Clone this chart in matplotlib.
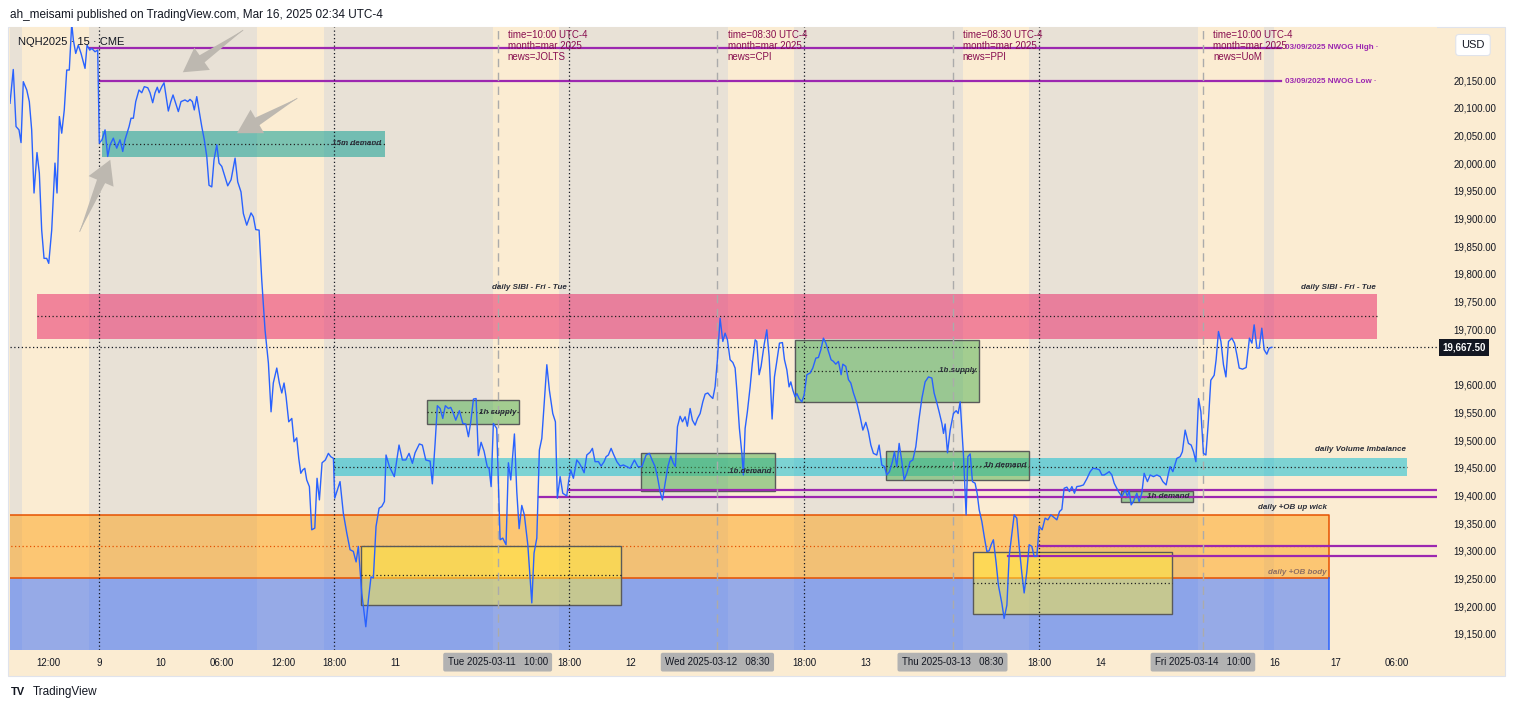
import matplotlib
matplotlib.use('Agg')
import matplotlib.pyplot as plt
import matplotlib.transforms as mtransforms
from matplotlib.patches import Rectangle

plt.rcParams['font.family'] = ['Liberation Sans', 'DejaVu Sans']

W, H = 1515, 711

# trading hours counted from Sun Mar 9 18:00 (17:00-18:00 breaks and weekend removed)
hours = [
    -8.71, -8.39, -8.12, -7.83, -7.63, -7.41, -7.07, -6.82, -6.59, -6.36, -6.07, -5.84,
    -5.61, -5.38, -5.12, -4.92, -4.63, -4.31, -4.11, -3.88, -3.65, -3.40, -3.16, -2.91,
    -2.67, -2.51, -2.28, -2.03, -1.76, -1.37, -1.17, -0.91, -0.71, -0.39, -0.13,
    0.03, 0.29, 0.59, 0.85, 1.08, 1.40, 1.73, 2.05, 2.32, 2.54, 2.94, 3.13, 3.36, 3.59,
    3.91, 4.18, 4.43, 4.77, 4.99, 5.25, 5.48, 5.70, 5.87, 6.14, 6.36, 6.62, 6.78, 7.02,
    7.24, 7.50, 7.76, 8.02, 8.41, 8.68, 8.90, 9.13, 9.32, 9.56, 9.81, 10.05, 10.30,
    10.54, 10.76, 11.03, 11.25, 11.52, 11.74, 12.01, 12.33, 12.59, 12.92, 13.31, 13.57,
    13.89, 14.12, 14.45, 14.87, 15.10, 15.33, 15.66, 15.92, 16.24, 16.57, 16.83, 17.05,
    17.39, 17.64, 17.88, 18.10, 18.30, 18.56, 18.86, 19.08, 19.34, 19.54, 19.74, 19.93,
    20.13, 20.32, 20.58, 20.81, 21.11, 21.33, 21.56, 21.82, 22.14, 22.44, 22.67, 22.93,
    23.06, 23.32, 23.58, 23.90, 24.24, 24.56, 24.88, 25.15, 25.37, 25.70, 26.10, 26.35,
    26.61, 26.84, 27.10, 27.40, 27.66, 27.92, 28.08, 28.41, 28.89, 29.35, 29.68, 30.01,
    30.33, 30.66, 30.92, 31.34, 31.63, 31.97, 32.39, 32.61, 32.88, 33.10, 33.37, 33.63,
    33.88, 34.18, 34.41, 34.67, 34.90, 35.26, 35.59, 35.88, 36.14, 36.37, 36.63, 36.89,
    37.11, 37.38, 37.67, 37.99, 38.16, 38.36, 38.58, 38.91, 39.24, 39.50, 39.82, 40.05,
    40.28, 40.64, 40.87, 41.10, 41.36, 41.61, 41.95, 42.34, 42.56, 42.83, 43.08, 43.32,
    43.57, 43.81, 44.06, 44.39, 44.65, 44.84, 45.11, 45.37, 45.76, 45.96, 46.15, 46.41,
    46.74, 47.00, 47.23, 47.46, 47.72, 48.04, 48.27, 48.53, 48.86, 49.12, 49.41, 49.61,
    49.83, 50.10, 50.32, 50.66, 50.98, 51.30, 51.64, 51.96, 52.38, 52.72, 53.11, 53.52,
    53.85, 54.11, 54.40, 54.63, 54.89, 55.12, 55.38, 55.65, 55.94, 56.17, 56.39, 56.59,
    56.85, 57.08, 57.34, 57.56, 57.83, 58.05, 58.32, 58.55, 58.81, 59.07, 59.30, 59.56,
    59.78, 60.05, 60.27, 60.50, 60.76, 61.03, 61.25, 61.48, 61.74, 62.01, 62.23, 62.40,
    62.65, 62.89, 63.04, 63.21, 63.43, 63.70, 63.92, 64.19, 64.35, 64.58, 64.77, 65.07,
    65.33, 65.56, 65.85, 66.08, 66.31, 66.57, 66.86, 67.06, 67.29, 67.51, 67.68, 67.88,
    68.10, 68.27, 68.49, 68.76, 68.98, 69.25, 69.57, 69.83, 70.13, 70.38, 70.62, 70.87,
    71.11, 71.36, 71.62, 71.85, 72.08, 72.34, 72.60, 72.77, 73.06, 73.32, 73.55, 73.81,
    74.14, 74.46, 74.73, 75.02, 75.27, 75.51, 75.76, 76.09, 76.32, 76.58, 76.84, 77.07,
    77.33, 77.62, 77.82, 78.05, 78.28, 78.54, 78.77, 79.03, 79.35, 79.62, 79.91, 80.21,
    80.50, 80.82, 81.15, 81.48, 81.70, 81.97, 82.19, 82.46, 82.62, 82.78, 83.01, 83.27,
    83.59, 83.86, 84.05, 84.25, 84.42, 84.57, 84.83, 85.00, 85.23, 85.45, 85.71, 85.91,
    86.11, 86.37, 86.63, 86.86, 87.08, 87.28, 87.50, 87.77, 87.99, 88.33, 88.55, 88.82,
    89.04, 89.30, 89.53, 89.79, 90.02, 90.28, 90.51, 90.77, 91.00, 91.26, 91.49, 91.75,
    91.98, 92.27, 92.56, 92.83, 93.12, 93.38, 93.71, 93.97, 94.20, 94.42, 94.69, 94.94,
    95.18, 95.43, 95.66, 95.99, 96.31, 96.64, 96.97, 97.23, 97.62, 97.88, 98.11, 98.34,
    98.60, 98.83, 99.09, 99.32, 99.74, 100.07, 100.39, 100.62, 100.78, 100.98, 101.20,
    101.53, 101.76, 102.02, 102.25, 102.57, 102.84, 103.16, 103.49, 103.82, 104.08,
    104.40, 104.63, 104.79, 105.06, 105.45, 105.77, 105.99, 106.26, 106.58, 106.85,
    107.08, 107.31, 107.57, 107.80, 108.05, 108.29, 108.54, 108.77, 109.10, 109.29,
    109.52, 109.76, 110.01, 110.25, 110.50, 110.83, 111.09, 111.32, 111.55, 111.87,
    112.23, 112.55, 112.79, 113.01, 113.28, 113.50, 113.76, 113.99, 114.25, 114.48, 114.75,
]
prices = [
    20108, 20169, 20066, 20060, 20037, 20147, 20132, 20111, 20060, 19946, 20019, 19982,
    19879, 19828, 19828, 19819, 19879, 20000, 19946, 20084, 20054, 20096, 20168, 20168,
    20252, 20222, 20198, 20213, 20198, 20171, 20213, 20204, 20207, 20201, 20204,
    20036, 20042, 20060, 20012, 20033, 20045, 20027, 20042, 20021, 20042, 20066, 20081, 20081, 20111,
    20132, 20127, 20138, 20136, 20127, 20109, 20127, 20137, 20127, 20138, 20145, 20114, 20094, 20111,
    20123, 20108, 20093, 20111, 20114, 20111, 20115, 20111, 20096, 20120, 20093, 20066, 20042,
    20012, 19960, 19957, 20006, 20033, 20000, 19994, 19975, 19959, 19970, 20009, 19966,
    19948, 19909, 19888, 19910, 19903, 19880, 19879, 19789, 19699, 19639, 19551, 19603,
    19630, 19603, 19585, 19603, 19578, 19533, 19539, 19497, 19504, 19467, 19440, 19446,
    19449, 19428, 19416, 19338, 19341, 19431, 19392, 19459, 19464, 19476, 19470, 19467,
    19395, 19410, 19425, 19368, 19332, 19302, 19299, 19280, 19308, 19224, 19163, 19211,
    19253, 19251, 19344, 19377, 19380, 19389, 19473, 19452, 19434, 19491, 19464, 19464,
    19476, 19458, 19477, 19493, 19491, 19464, 19462, 19421, 19494, 19562, 19557, 19539,
    19562, 19557, 19559, 19548, 19536, 19553, 19530, 19529, 19506, 19533, 19574, 19575,
    19472, 19496, 19480, 19451, 19449, 19416, 19530, 19521, 19320, 19323, 19311, 19459,
    19428, 19511, 19407, 19340, 19382, 19365, 19311, 19206, 19296, 19323, 19482, 19503,
    19572, 19636, 19590, 19548, 19533, 19395, 19434, 19404, 19399, 19428, 19446, 19431,
    19464, 19458, 19450, 19441, 19473, 19478, 19485, 19461, 19461, 19453, 19461, 19470,
    19473, 19485, 19475, 19461, 19453, 19455, 19452, 19449, 19464, 19452, 19452, 19473,
    19476, 19464, 19452, 19434, 19407, 19392, 19422, 19452, 19471, 19459, 19452, 19524,
    19543, 19533, 19542, 19525, 19557, 19536, 19527, 19539, 19548, 19569, 19583, 19585,
    19580, 19575, 19596, 19645, 19720, 19678, 19693, 19681, 19645, 19640, 19630, 19590,
    19521, 19476, 19437, 19521, 19551, 19596, 19639, 19681, 19678, 19618, 19633, 19672,
    19699, 19651, 19538, 19614, 19642, 19675, 19676, 19645, 19627, 19596, 19605, 19590,
    19578, 19584, 19575, 19569, 19581, 19618, 19621, 19630, 19648, 19649, 19663, 19684,
    19675, 19660, 19645, 19642, 19637, 19642, 19618, 19637, 19633, 19609, 19603, 19585,
    19567, 19542, 19518, 19532, 19515, 19491, 19476, 19473, 19491, 19455, 19452, 19437,
    19443, 19461, 19479, 19452, 19494, 19461, 19428, 19440, 19461, 19464, 19488, 19536,
    19575, 19605, 19614, 19612, 19585, 19567, 19551, 19530, 19512, 19529, 19477, 19518,
    19548, 19553, 19548, 19569, 19518, 19473, 19365, 19470, 19475, 19425, 19422, 19404,
    19374, 19353, 19323, 19299, 19300, 19311, 19320, 19278, 19238, 19205, 19178, 19202,
    19290, 19329, 19365, 19359, 19308, 19260, 19224, 19262, 19311, 19308, 19290, 19290,
    19344, 19338, 19359, 19356, 19365, 19361, 19356, 19371, 19375, 19413, 19415, 19407,
    19416, 19404, 19416, 19417, 19419, 19430, 19443, 19449, 19448, 19446, 19437, 19437,
    19440, 19443, 19437, 19422, 19407, 19398, 19410, 19398, 19409, 19383, 19389,
    19404, 19389, 19404, 19440, 19425, 19437, 19434, 19437, 19434, 19425,
    19419, 19440, 19452, 19443, 19467, 19470, 19479, 19518, 19494, 19491,
    19479, 19461, 19575, 19551, 19476, 19473, 19536, 19608, 19617, 19645,
    19696, 19678, 19636, 19614, 19678, 19684, 19675, 19654, 19630, 19628,
    19631, 19684, 19675, 19708, 19666, 19666, 19702, 19663, 19655, 19666, 19667.5,
]
last_price = 19667.50

# regular sessions (09:30-16:00) start, in trading hours
rth_starts = [-7.5, 15.5, 38.5, 61.5, 84.5, 107.5]
future_start = 115.0
session_lines = [0, 23, 46, 69, 92]

news_hours = [39, 60.5, 83.5, 108]
news_clock = ['10:00', '08:30', '08:30', '10:00']
news_names = ['JOLTS', 'CPI', 'PPI', 'UoM']
news_days = ['Tue 2025-03-11', 'Wed 2025-03-12', 'Thu 2025-03-13', 'Fri 2025-03-14']

tick_hours = [-5, 0, 6, 12, 18, 23, 29, 46, 52, 69, 75, 92, 98, 115, 121, 127]
tick_labels = ['12:00', '9', '10', '06:00', '12:00', '18:00', '11', '18:00', '12',
               '18:00', '13', '18:00', '14', '16', '17', '06:00']
price_ticks = [19150, 19200, 19250, 19300, 19350, 19400, 19450, 19500, 19550, 19600,
               19700, 19750, 19800, 19850, 19900, 19950, 20000, 20050, 20100, 20150]

nwog_high = 20208.0
nwog_low = 20148.0
nwog_start = [-0.9, 0.0]
nwog_end = 115.6

# zones: (h0, h1, low, high)
demand_15m = (0.3, 28.0, 20011, 20058)
sibi = (-6.1, 125.0, 19682.5, 19764)
sibi_label_h = 42.1
vol_imb = (23.0, 128.0, 19435, 19468)
ob_wick = (-9.0, 120.3, 19251, 19365)
ob_body = (-9.0, 120.3, 19050, 19251)
supply_1h = [(32.1, 41.1, 19529, 19572), (68.1, 86.1, 19569, 19681)]
demand_1h = [(53.0, 66.1, 19408, 19477), (77.0, 91.0, 19428, 19480), (100.0, 107.0, 19388, 19408)]
yellow_boxes = [(25.6, 51.1, 19202, 19309), (85.5, 105.0, 19186, 19298)]
# purple levels: (start hour, price)
purple_levels = [(43.05, 19397), (46.0, 19410), (88.9, 19290), (92.0, 19309)]

# gray hand-drawn arrows: (tail, head)
arrows = [((14.1, 20240), (8.2, 20164)),
          ((19.4, 20117), (13.5, 20054)),
          ((-1.9, 19876), (1.1, 20006))]

BEIGE = '#FBECD2'
GRAY = '#E8E1D6'
ARROW = '#BDB8B0'
XMIN, XMAX = -8.71, 130.9
YMIN, YMAX = 19121, 20245.7

fig = plt.figure(figsize=(W / 100, H / 100), dpi=100)
fig.patch.set_facecolor('white')
fig.add_artist(Rectangle((8 / W, 1 - 676 / H), 1497 / W, 649 / H, transform=fig.transFigure,
                         fc=BEIGE, ec='#E0E3EB', lw=0.8, zorder=0))

ax = fig.add_axes([10 / W, 1 - 650 / H, 1427 / W, 623 / H])
ax.set_facecolor(GRAY)
ax.set_xlim(XMIN, XMAX)
ax.set_ylim(YMIN, YMAX)
for s in ax.spines.values():
    s.set_visible(False)

for st in rth_starts:
    ax.axvspan(st, st + 6.5, color=BEIGE, lw=0, zorder=0)
ax.axvspan(future_start, XMAX, color=BEIGE, lw=0, zorder=0)

trans = mtransforms.blended_transform_factory(ax.transData, ax.transAxes)


def zone(z, fc, alpha, ec='none', lw=0, mid=None, zo=1):
    h0, h1, lo, hi = z
    ax.add_patch(Rectangle((h0, lo), h1 - h0, hi - lo, fc=fc, alpha=alpha, ec='none', zorder=zo))
    if ec != 'none':
        ax.add_patch(Rectangle((h0, lo), h1 - h0, hi - lo, fc='none', ec=ec, lw=lw, zorder=zo + 0.1))
    if mid:
        ax.plot([h0, h1], [(lo + hi) / 2] * 2, ls=(0, (1, 2)), color=mid, lw=0.9, zorder=zo + 0.2)


lab = dict(fontsize=5.8, style='italic', fontweight='bold', color='#2A2E39', zorder=6)

# daily order block zones
zone(ob_body, '#2962FF', 0.48, zo=1)
zone(ob_wick, '#FF9800', 0.45, zo=1, mid='#E65100')
h0, h1, lo, hi = ob_wick
ax.plot([h0, h1, h1], [hi, hi, lo], color='#E65100', lw=1.1, zorder=2)
ax.plot([h0, h1], [lo, lo], color='#E65100', lw=1.1, zorder=2)
ax.plot([h1, h1], [ob_body[2], ob_body[3]], color='#2962FF', lw=1.1, zorder=2)
ax.text(h1 - 0.2, hi + 7, 'daily +OB up wick', ha='right', va='bottom', **lab)
ax.text(h1 - 0.2, lo + 4, 'daily +OB body', ha='right', va='bottom',
        **{**lab, 'color': '#8D6E63'})

zone(sibi, '#E91E63', 0.5, mid='#222222')
ax.text(sibi_label_h, sibi[3] + 6, 'daily SIBI - Fri - Tue', ha='center', va='bottom', **lab)
ax.text(sibi[1] - 0.1, sibi[3] + 6, 'daily SIBI - Fri - Tue', ha='right', va='bottom', **lab)

zone(vol_imb, '#00BCD4', 0.5, mid='#222222')
ax.text(vol_imb[1] - 0.1, vol_imb[3] + 9, 'daily Volume Imbalance', ha='right', va='bottom', **lab)

zone(demand_15m, '#26A69A', 0.6, mid='#222222')
ax.text(demand_15m[1] - 0.4, (demand_15m[2] + demand_15m[3]) / 2, '15m demand', ha='right',
        va='center', **lab)

for z in supply_1h:
    zone(z, '#4CAF50', 0.5, ec='#5A5A5A', lw=1.0, mid='#222222', zo=2)
    ax.text(z[1] - 0.3, (z[2] + z[3]) / 2, '1h supply', ha='right', va='center', **lab)
for z in demand_1h:
    zone(z, '#4CAF50', 0.5, ec='#5A5A5A', lw=1.0, mid='#222222', zo=2)
    ax.text(z[1] - 0.3, (z[2] + z[3]) / 2, '1h demand', ha='right', va='center', **lab)
for z in yellow_boxes:
    zone(z, '#FFEB3B', 0.5, ec='#5A5A5A', lw=1.0, mid='#222222', zo=2)

for st, lvl in purple_levels:
    ax.plot([st, XMAX], [lvl, lvl], color='#9C27B0', lw=1.6, zorder=3)

ax.plot([nwog_start[0], nwog_end], [nwog_high] * 2, color='#9C27B0', lw=1.6, zorder=3)
ax.plot([nwog_start[1], nwog_end], [nwog_low] * 2, color='#9C27B0', lw=1.6, zorder=3)
ax.text(nwog_end + 0.4, nwog_high, '03/09/2025 NWOG High \u00b7', ha='left', va='center',
        fontsize=5.8, color='#9C27B0', fontweight='bold', zorder=6)
ax.text(nwog_end + 0.4, nwog_low, '03/09/2025 NWOG Low \u00b7', ha='left', va='center',
        fontsize=5.8, color='#9C27B0', fontweight='bold', zorder=6)

for v in session_lines:
    ax.axvline(v, color='#131722', ls=(0, (1, 2)), lw=0.9, zorder=3)
for v, clk, nm in zip(news_hours, news_clock, news_names):
    ax.axvline(v, color='#ABABAB', ls=(0, (6, 4)), lw=1.0, zorder=3)
    ax.text(v + 1.0, 0.995, f'time={clk} UTC-4\nmonth=mar 2025\nnews={nm}', transform=trans,
            ha='left', va='top', fontsize=7, color='#880E4F', linespacing=1.12, zorder=6)

ax.axhline(last_price, color='#131722', ls=(0, (1, 2)), lw=0.9, zorder=3)

# arrows: shaft widening towards the head, then a broad head
for (t, hd) in arrows:
    ax.annotate('', xy=t, xytext=hd,
                arrowprops=dict(arrowstyle='wedge,tail_width=0.6,shrink_factor=0.5',
                                mutation_scale=13, fc=ARROW, ec='none', shrinkA=8, shrinkB=0),
                zorder=3.5)
    ax.annotate('', xy=hd, xytext=t,
                arrowprops=dict(arrowstyle='simple,head_length=1.3,head_width=1.5,tail_width=0.05',
                                mutation_scale=13, fc=ARROW, ec='none', shrinkA=0, shrinkB=0),
                zorder=3.5)

ax.plot(hours, prices, color='#2962FF', lw=1.0, zorder=4, clip_on=True)

# axes ticks
ax.set_xticks(tick_hours)
ax.set_xticklabels(tick_labels)
ax.set_yticks(price_ticks)
ax.set_yticklabels([f'{p:,.2f}' for p in price_ticks])
ax.yaxis.tick_right()
ax.tick_params(axis='both', length=0, labelsize=7, labelcolor='#131722')
ax.tick_params(axis='x', pad=6)
ax.tick_params(axis='y', pad=12)

for v, day, clk in zip(news_hours, news_days, news_clock):
    ax.text(v, -0.0195, f'{day}   {clk}', transform=trans, ha='center', va='center',
            fontsize=7, color='#131722', zorder=7, clip_on=False,
            bbox=dict(boxstyle='round,pad=0.45,rounding_size=0.2', fc='#B2B2B2', ec='none'))

ax.text(1.004, last_price, f'{last_price:,.2f}', transform=mtransforms.blended_transform_factory(
    ax.transAxes, ax.transData), ha='left', va='center', fontsize=7, fontweight='bold',
    color='white', clip_on=False, zorder=8,
    bbox=dict(boxstyle='square,pad=0.35', fc='#131722', ec='none'))

fig.text(1473 / W, 1 - 45 / H, 'USD', ha='center', va='center', fontsize=8, color='#131722',
         bbox=dict(boxstyle='round,pad=0.5,rounding_size=0.3', fc='white', ec='#E0E3EB', lw=0.8))

fig.text(10 / W, 1 - 15 / H, 'ah_meisami published on TradingView.com, Mar 16, 2025 02:34 UTC-4',
         ha='left', va='center', fontsize=8.5, color='#131722')
fig.text(18 / W, 1 - 42 / H, 'NQH2025 \u00b7 15 \u00b7 CME', ha='left', va='center',
         fontsize=8, color='#131722', zorder=9)
fig.text(11 / W, 1 - 692 / H, 'TV', ha='left', va='center', fontsize=8, fontweight='black',
         color='#131722')
fig.text(33 / W, 1 - 692 / H, 'TradingView', ha='left', va='center', fontsize=8.5,
         color='#131722')

fig.savefig('out.png', dpi=100)
